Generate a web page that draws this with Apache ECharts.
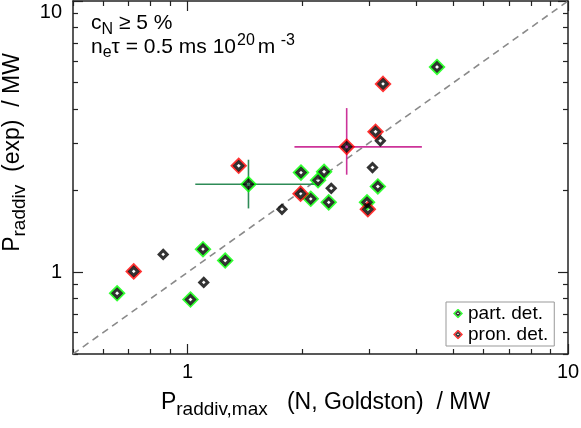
<!DOCTYPE html>
<html><head><meta charset="utf-8">
<script src="https://cdn.jsdelivr.net/npm/echarts@6/dist/echarts.min.js"></script>
<style>html,body{margin:0;padding:0;background:#fff}#c{width:581px;height:428px}</style>
</head><body><div id="c"></div>
<script>
// ---- axis / tick definitions ----
const axisMin = 0.5, axisMax = 10;
const majorTickValues = [1, 10];
const majorTickLabels = ['1', '10'];
const minorTickValues = [0.5, 0.6, 0.7, 0.8, 0.9, 2, 3, 4, 5, 6, 7, 8, 9];

// ---- data: part. det. (green) ----
const partDetX = [0.653, 1.098, 1.018, 1.256, 1.446, 1.987, 2.285, 2.203, 2.108, 2.350, 4.526, 3.164, 2.963];
const partDetY = [0.837, 1.217, 0.794, 1.105, 2.112, 2.331, 2.347, 2.184, 1.866, 1.811, 5.712, 2.072, 1.811];
// ---- data: pron. det. (red) ----
const pronDetX = [0.722, 1.363, 1.982, 3.265, 3.120, 2.620, 2.978];
const pronDetY = [1.008, 2.470, 1.950, 4.948, 3.297, 2.900, 1.707];
// ---- data: other points (black only) ----
const otherX = [0.863, 1.103, 1.771, 2.386, 3.212, 3.063];
const otherY = [1.164, 0.918, 1.707, 2.040, 3.054, 2.434];
// ---- error bars ----
const errCenterX = [1.446, 2.62];
const errCenterY = [2.112, 2.90];
const errXLow = [1.048, 1.91];
const errXHigh = [2.18, 4.13];
const errYLow = [1.72, 2.29];
const errYHigh = [2.60, 4.03];
// ---- 1:1 reference line ----
const refLineX = [0.5, 10];
const refLineY = [0.5, 10];

const FONT = '"Liberation Sans", Arial, Helvetica, sans-serif';
const errColors = ['#2e8b57', '#cc3399'];
const L = Math.log10;
const lmin = L(axisMin), lmax = L(axisMax);
const majorLogs = majorTickValues.map(L);
const minorLogs = minorTickValues.map(L);
const axisColor = '#222';

function zip(a, b) { return a.map((v, i) => [v, b[i]]); }
function labelFor(v) {
  const i = majorLogs.findIndex(m => Math.abs(m - v) < 1e-6);
  return i >= 0 ? majorTickLabels[i] : '';
}

function decoAxis(position, major, extra) {
  const a = {
    type: 'value', min: lmin, max: lmax, position: position,
    axisLine: { show: major, onZero: false, lineStyle: { color: axisColor, width: 1.5 } },
    axisTick: { show: true, inside: true, length: major ? 10 : 5,
      customValues: major ? majorLogs : minorLogs,
      lineStyle: { color: axisColor, width: 1.2 } },
    axisLabel: { show: false },
    splitLine: { show: false },
    silent: true
  };
  if (extra) {
    a.axisLabel = Object.assign({
      show: true, customValues: majorLogs, color: '#000',
      fontFamily: FONT, fontSize: 20
    }, extra.axisLabel);
    Object.assign(a, extra.other || {});
  }
  return a;
}

const chart = echarts.init(document.getElementById('c'), null, { renderer: 'canvas' });

const allX = partDetX.concat(pronDetX, otherX);
const allY = partDetY.concat(pronDetY, otherY);

function legendIcon(color) {
  const svg = '<svg xmlns="http://www.w3.org/2000/svg" width="20" height="20" viewBox="0 0 20 20">' +
    '<path d="M10 2 L18 10 L10 18 L2 10 Z" fill="none" stroke="' + color + '" stroke-width="3"/>' +
    '<path d="M10 6 L14 10 L10 14 L6 10 Z" fill="none" stroke="#000" stroke-width="2.8"/></svg>';
  return 'image://data:image/svg+xml;charset=utf-8,' + encodeURIComponent(svg);
}

const option = {
  animation: false,
  backgroundColor: '#fff',
  grid: { left: 73, right: 13, top: 1, bottom: 74, containLabel: false, outerBoundsMode: 'none' },
  xAxis: [
    { type: 'log', min: axisMin, max: axisMax, show: false },
    decoAxis('bottom', true, {
      axisLabel: { margin: 8, formatter: v => labelFor(v) },
      other: {
        name: '{m|P}{s|raddiv,max}{m|   (N, Goldston)  / MW}',
        nameLocation: 'middle', nameGap: 33,
        nameTextStyle: { color: '#000', fontFamily: FONT, fontSize: 23, padding: [0, 0, 0, 10],
          rich: { m: { fontSize: 23, fontFamily: FONT, color: '#000' },
                  s: { fontSize: 19, fontFamily: FONT, color: '#000', padding: [13, 0, 0, 0] } } }
      }
    }),
    decoAxis('bottom', false),
    decoAxis('top', true),
    decoAxis('top', false)
  ],
  yAxis: [
    { type: 'log', min: axisMin, max: axisMax, show: false },
    decoAxis('left', true, {
      axisLabel: { margin: 11, formatter: v => {
          const t = labelFor(v);
          return v > 0.5 ? '{top|' + t + '}' : '{n|' + t + '}';
        },
        rich: { top: { fontSize: 20, fontFamily: FONT, color: '#000', padding: [22, 0, 0, 0] },
                n: { fontSize: 20, fontFamily: FONT, color: '#000' } } },
      other: {
        name: '{m|P}{s|raddiv}{m|  (exp)  / MW}',
        nameLocation: 'middle', nameGap: 44,
        nameTextStyle: { color: '#000', fontFamily: FONT, fontSize: 23, padding: [0, 0, 0, 50],
          rich: { m: { fontSize: 23, fontFamily: FONT, color: '#000' },
                  s: { fontSize: 19, fontFamily: FONT, color: '#000', padding: [13, 0, 0, 0] } } }
      }
    }),
    decoAxis('left', false),
    decoAxis('right', true),
    decoAxis('right', false)
  ],
  legend: {
    left: 446, top: 302, orient: 'vertical',
    itemWidth: 10, itemHeight: 10, itemGap: 2,
    padding: [2, 6, 2, 7],
    borderColor: '#999', borderWidth: 1, backgroundColor: '#fff',
    textStyle: { fontFamily: FONT, fontSize: 19, color: '#000' },
    data: [
      { name: 'part. det.', icon: legendIcon('#00ff00') },
      { name: 'pron. det.', icon: legendIcon('#ff0000') }
    ]
  },
  graphic: [
    { type: 'text', left: 91, top: 13, z: 10,
      style: { text: '{m|c}{s|N}{m| ≥ 5 %}', fontFamily: FONT,
        rich: { m: { fontSize: 21, fontFamily: FONT, fill: '#000' },
                s: { fontSize: 16, fontFamily: FONT, fill: '#000', padding: [12, 0, 0, 0] } } } },
    { type: 'text', left: 91, top: 33, z: 10,
      style: { text: '{m|n}{s|e}{m|τ = 0.5 ms 10}{p|20}{m|m}{p| -3}', fontFamily: FONT,
        rich: { m: { fontSize: 21, fontFamily: FONT, fill: '#000' },
                s: { fontSize: 16, fontFamily: FONT, fill: '#000', padding: [12, 0, 0, 0] },
                p: { fontSize: 16, fontFamily: FONT, fill: '#000', padding: [0, 3, 12, 1] } } } }
  ],
  series: [
    { name: 'ref', type: 'line', data: zip(refLineX, refLineY), symbol: 'none', silent: true, z: 1,
      lineStyle: { color: '#8a8a8a', width: 1.6, type: [7, 5] } },
    { name: 'err', type: 'custom', z: 2, silent: true,
      data: errCenterX.map((v, i) => [v, errCenterY[i], errXLow[i], errXHigh[i], errYLow[i], errYHigh[i]]),
      encode: { x: [0, 2, 3], y: [1, 4, 5] },
      renderItem: function (params, api) {
        const xl = api.coord([api.value(2), api.value(1)]);
        const xh = api.coord([api.value(3), api.value(1)]);
        const yl = api.coord([api.value(0), api.value(4)]);
        const yh = api.coord([api.value(0), api.value(5)]);
        const col = errColors[params.dataIndex];
        return { type: 'group', children: [
          { type: 'line', shape: { x1: xl[0], y1: xl[1], x2: xh[0], y2: xh[1] }, style: { stroke: col, lineWidth: 1.6 } },
          { type: 'line', shape: { x1: yl[0], y1: yl[1], x2: yh[0], y2: yh[1] }, style: { stroke: col, lineWidth: 1.6 } }
        ] };
      } },
    { name: 'part. det.', type: 'scatter', data: zip(partDetX, partDetY), symbol: 'diamond', symbolSize: 14, z: 3,
      itemStyle: { color: 'rgba(0,0,0,0)', borderColor: '#00ff00', borderWidth: 2.2 } },
    { name: 'pron. det.', type: 'scatter', data: zip(pronDetX, pronDetY), symbol: 'diamond', symbolSize: 14, z: 3,
      itemStyle: { color: 'rgba(0,0,0,0)', borderColor: '#ff0000', borderWidth: 2.2 } },
    { name: 'all', type: 'scatter', data: zip(allX, allY), symbol: 'diamond', symbolSize: 8, z: 4,
      itemStyle: { color: 'rgba(0,0,0,0)', borderColor: '#000', borderWidth: 3 } }
  ]
};
chart.setOption(option);
</script>
</body></html>
